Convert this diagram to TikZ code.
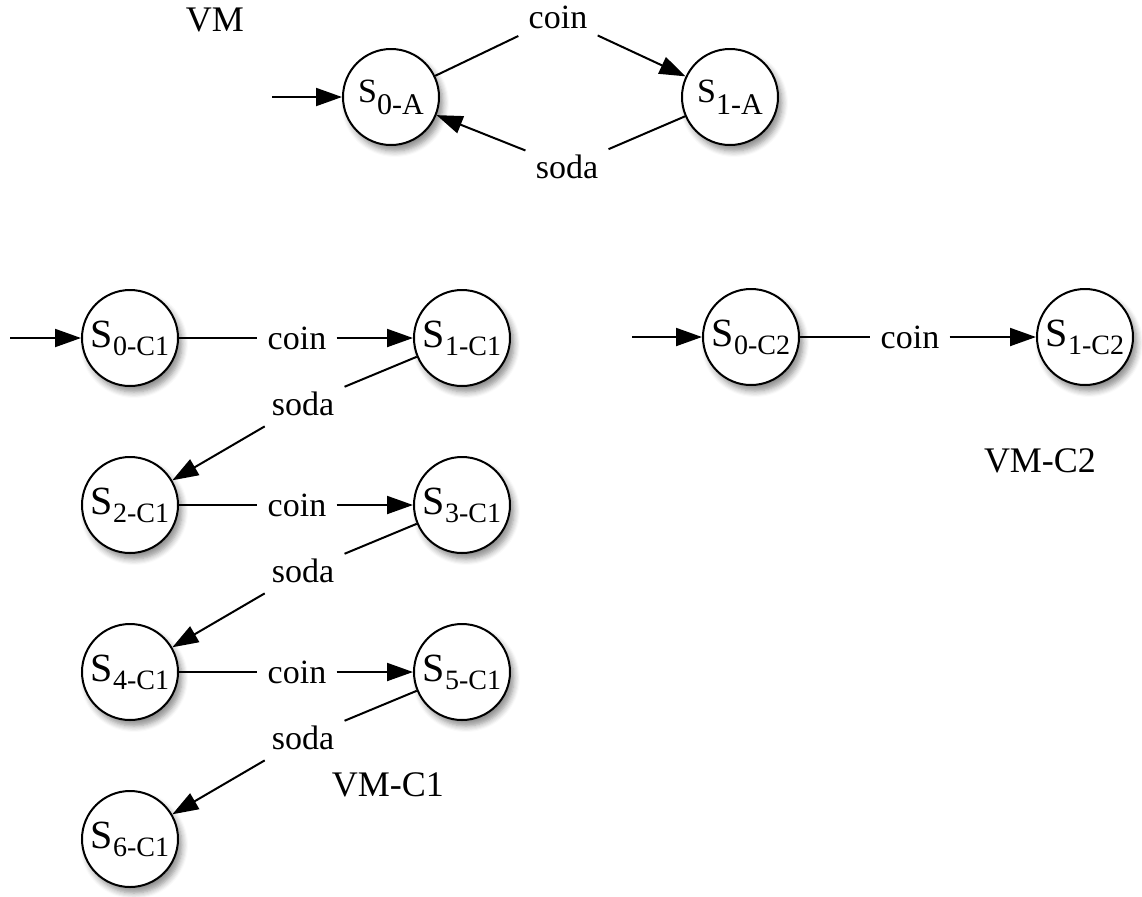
\documentclass[tikz,border=0pt]{standalone}
\usepackage{fontspec}
\setmainfont{Liberation Serif}
\usetikzlibrary{arrows.meta, shadows.blur, positioning}

\newcommand{\stA}[1]{{\fontsize{17}{20}\selectfont S\raisebox{-6pt}{\fontsize{15}{18}\selectfont #1}}}
\newcommand{\stC}[1]{{\fontsize{20}{24}\selectfont S\raisebox{-4pt}{\fontsize{14}{16}\selectfont #1}}}

\tikzset{
  state/.style={circle, draw=black, line width=1pt, fill=white, minimum size=48pt, inner sep=0pt,
    blur shadow={shadow blur steps=6, shadow xshift=2pt, shadow yshift=-3pt, shadow opacity=45, shadow blur radius=3pt}},
  edgelbl/.style={fill=white, inner sep=5pt, font=\fontsize{17}{20}\selectfont},
  title/.style={font=\fontsize{18}{21}\selectfont},
  edge/.style={line width=1pt},
  >={Triangle[length=13pt, width=9pt]}
}

\begin{document}
\begin{tikzpicture}[x=0.5pt, y=-0.5pt]
  \useasboundingbox (0,0) rectangle (1142,896);

  % VM
  \node[title] (vm) at (215,20) {VM};
  \node[state] (a0) at (391,97) {\stA{0-A}};
  \node[state] (a1) at (730,97) {\stA{1-A}};
  \coordinate (a0in) at (272,97);
  \node[edgelbl] (coinA) at (558,17) {coin};
  \node[edgelbl] (sodaA) at (567,167) {soda};

  \draw[->, edge] (a0in) -- (a0);
  \draw[edge] (a0) -- (coinA);
  \draw[->, edge] (coinA) -- (a1);
  \draw[edge] (a1) -- (sodaA);
  \draw[->, edge] (sodaA) -- (a0);

  % VM-C1
  \node[title] (vmc1) at (388,785) {VM-C1};
  \node[state] (c10) at (130,338) {\stC{0-C1}};
  \node[state] (c11) at (462,338) {\stC{1-C1}};
  \node[state] (c12) at (130,505) {\stC{2-C1}};
  \node[state] (c13) at (462,505) {\stC{3-C1}};
  \node[state] (c14) at (130,672) {\stC{4-C1}};
  \node[state] (c15) at (462,672) {\stC{5-C1}};
  \node[state] (c16) at (130,839) {\stC{6-C1}};
  \coordinate (c10in) at (10,338);

  \node[edgelbl] (coin1) at (297,338) {coin};
  \node[edgelbl] (coin2) at (297,505) {coin};
  \node[edgelbl] (coin3) at (297,672) {coin};
  \node[edgelbl] (soda1) at (303,404) {soda};
  \node[edgelbl] (soda2) at (303,571) {soda};
  \node[edgelbl] (soda3) at (303,738) {soda};

  \draw[->, edge] (c10in) -- (c10);
  \draw[edge] (c10) -- (coin1);
  \draw[->, edge] (coin1) -- (c11);
  \draw[edge] (c11) -- (soda1);
  \draw[->, edge] (soda1) -- (c12);
  \draw[edge] (c12) -- (coin2);
  \draw[->, edge] (coin2) -- (c13);
  \draw[edge] (c13) -- (soda2);
  \draw[->, edge] (soda2) -- (c14);
  \draw[edge] (c14) -- (coin3);
  \draw[->, edge] (coin3) -- (c15);
  \draw[edge] (c15) -- (soda3);
  \draw[->, edge] (soda3) -- (c16);

  % VM-C2
  \node[title] (vmc2) at (1040,461) {VM-C2};
  \node[state] (c20) at (751,337) {\stC{0-C2}};
  \node[state] (c21) at (1085,337) {\stC{1-C2}};
  \coordinate (c20in) at (632,337);
  \node[edgelbl] (coin4) at (910,337) {coin};

  \draw[->, edge] (c20in) -- (c20);
  \draw[edge] (c20) -- (coin4);
  \draw[->, edge] (coin4) -- (c21);
\end{tikzpicture}
\end{document}
